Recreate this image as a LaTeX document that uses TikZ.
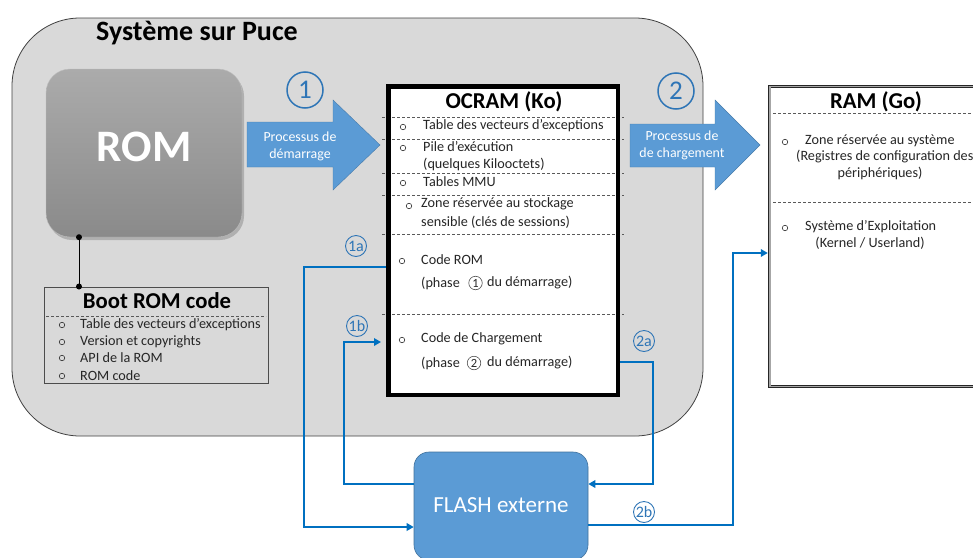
\documentclass[tikz,border=0pt]{standalone}
\usepackage{fontspec}
\setmainfont{Carlito}
\usetikzlibrary{arrows.meta,shadows}

\definecolor{socgray}{HTML}{D9D9D9}
\definecolor{blockblue}{HTML}{5B9BD5}
\definecolor{blockedge}{HTML}{41719C}
\definecolor{linkblue}{HTML}{0070C0}
\definecolor{circblue}{HTML}{2E75B6}
\definecolor{romtop}{HTML}{ABABAB}
\definecolor{rombot}{HTML}{8A8A8A}

\tikzset{
  small/.style={font=\fontsize{14.2}{17}\selectfont, inner sep=0pt, text=black!85},
  item/.style={small, anchor=west},
  bul/.style={circle, draw=black!80, line width=0.6pt, minimum size=5.5pt, inner sep=0pt},
  headbold/.style={font=\fontsize{22.7}{26}\selectfont\bfseries, inner sep=0pt},
  sep/.style={draw=black!65, dashed, dash pattern=on 3pt off 2pt, line width=0.7pt},
  bigcirc/.style={circle, draw=circblue, line width=1.5pt, minimum size=36pt, inner sep=0pt,
                  text=circblue, font=\fontsize{27}{30}\selectfont},
  minicirc/.style={circle, draw=circblue, line width=0.9pt, minimum size=21pt, inner sep=0pt,
                   text=circblue, font=\fontsize{16}{18}\selectfont},
  phasecirc/.style={circle, draw=black!70, line width=0.6pt, minimum size=13.5pt, inner sep=0pt,
                    font=\fontsize{12.5}{14}\selectfont, text=black!85},
  blockarrow/.style={fill=blockblue, draw=blockblue!80!black, line width=0.4pt},
  arrowtext/.style={font=\fontsize{13.9}{16}\selectfont, text=white, inner sep=0pt},
  link/.style={draw=linkblue, line width=2.5pt,
               -{Triangle[length=7pt,width=7.5pt]}},
}

\begin{document}
\begin{tikzpicture}[x=1pt,y=-1pt]
\useasboundingbox (0,0) rectangle (973,557);
\clip (0,0) rectangle (973,557);

% system-on-chip frame
\node[draw=black!75, line width=0.8pt, fill=socgray, rounded corners=68pt,
      minimum width=691pt, minimum height=418pt, inner sep=0pt]
      (soc) at (357.5,227) {};
\node[font=\fontsize{28}{32}\selectfont\bfseries, inner sep=0pt]
      (soctitle) at (197,33) {Système sur Puce};

% ROM block
\node[rounded corners=24pt, top color=romtop, bottom color=rombot,
      draw=black!25, line width=0.4pt,
      drop shadow={shadow xshift=2pt, shadow yshift=-3pt, opacity=0.35, fill=black!60},
      minimum width=196pt, minimum height=168pt, inner sep=0pt]
      (rom) at (144,153) {};
\node[font=\fontsize{45}{50}\selectfont\bfseries, text=white, inner sep=0pt]
      (romlabel) at (144,147) {ROM};

% Boot ROM code box
\node[draw=black!70, line width=1pt, fill=socgray,
      minimum width=224pt, minimum height=96pt, inner sep=0pt]
      (boot) at (156,335) {};
\node[headbold] (boottitle) at (157,301) {Boot ROM code};
\draw[sep] (46,316) -- (266,316);
\node[bul] (bb1) at (62,325) {};
\node[item] (bt1) at (80,325) {Table des vecteurs d’exceptions};
\node[bul] (bb2) at (62,342) {};
\node[item] (bt2) at (80,342) {Version et copyrights};
\node[bul] (bb3) at (62,358) {};
\node[item] (bt3) at (80,358) {API de la ROM};
\node[bul] (bb4) at (62,376) {};
\node[item] (bt4) at (80,376) {ROM code};

% ROM to Boot ROM code link
\coordinate (romx) at (79,0);
\fill (rom.south -| romx) circle (3pt);
\fill (boot.north -| romx) circle (3pt);
\draw[line width=1pt] (rom.south -| romx) -- (boot.north -| romx);

% boot process arrow (step 1)
\fill[blockarrow] (247,122) -- (333,122) -- (333,100) -- (380,145)
      -- (333,190) -- (333,167) -- (247,167) -- cycle;
\node[arrowtext] (a1l1) at (300,137) {Processus de};
\node[arrowtext] (a1l2) at (300,155) {démarrage};
\node[bigcirc] (step1) at (305,90) {1};

% OCRAM
\node[fill=white, minimum width=234pt, minimum height=313pt, inner sep=0pt]
      (ocramfill) at (503,240.5) {};
\foreach \yy in {117,139,173,195,234,314}
  \draw[sep] (382,\yy) -- (624,\yy);
\node[draw=black, line width=4.5pt, minimum width=229.5pt, minimum height=308.5pt,
      inner sep=0pt] (ocram) at (503,240.5) {};
\node[headbold] (ocramtitle) at (504,102) {OCRAM (Ko)};
\node[bul] (ob1) at (403,127) {};
\node[item] (ot1) at (423,126) {Table des vecteurs d’exceptions};
\node[bul] (ob2) at (403,148) {};
\node[item] (ot2) at (423,147) {Pile d’exécution};
\node[item] (ot2b) at (423,164) {(quelques Kilooctets)};
\node[bul] (ob3) at (403,183) {};
\node[item] (ot3) at (423,182) {Tables MMU};
\node[bul] (ob4) at (409,206) {};
\node[item] (ot4) at (421,204) {Zone réservée au stockage};
\node[item] (ot4b) at (421,222) {sensible (clés de sessions)};
\node[bul] (ob5) at (402,261) {};
\node[item] (ot5) at (421,260) {Code ROM};
\node[item] (ot5b) at (421,283) {(phase};
\node[phasecirc] (ph1) at (475.5,283) {1};
\node[item] (ot5c) at (487,283) {du démarrage)};
\node[bul] (ob6) at (402,340) {};
\node[item] (ot6) at (421,339) {Code de Chargement};
\node[item] (ot6b) at (421,363) {(phase};
\node[phasecirc] (ph2) at (474,363) {2};
\node[item] (ot6c) at (487,363) {du démarrage)};

% loading process arrow (step 2)
\fill[blockarrow] (630,124) -- (715,124) -- (715,100) -- (760,145)
      -- (715,190) -- (715,167) -- (630,167) -- cycle;
\node[arrowtext] (a2l1) at (682,136) {Processus de};
\node[arrowtext] (a2l2) at (682,154) {de chargement};
\node[bigcirc] (step2) at (676,91) {2};

% RAM
\node[fill=white, minimum width=232pt, minimum height=304pt, inner sep=0pt]
      (ram) at (884,236.5) {};
\draw[draw=black!85, line width=0.9pt, double=black!35, double distance=1.4pt]
      (ram.north west) ++(2pt,-2pt) rectangle ([shift={(-2pt,2pt)}]ram.south east);
\node[headbold] (ramtitle) at (876,102) {RAM (Go)};
\draw[sep] (773,113) -- (980,113);
\draw[sep] (773,202) -- (980,202);
\node[bul] (rb1) at (785,142) {};
\node[item] (rt1) at (805,141) {Zone réservée au système};
\node[item] (rt1b) at (796,157) {(Registres de configuration des};
\node[small] (rt1c) at (880,173) {périphériques)};
\node[bul] (rb2) at (785,228) {};
\node[item] (rt2) at (805,227) {Système d’Exploitation};
\node[small] (rt2b) at (870,243) {(Kernel / Userland)};

% external flash
\node[fill=blockblue, draw=blockedge, line width=0.6pt, rounded corners=15pt,
      minimum width=174pt, minimum height=108pt, inner sep=0pt]
      (flash) at (501,506) {};
\node[font=\fontsize{23}{26}\selectfont, text=white, inner sep=0pt]
      (flashlabel) at (501,505) {FLASH externe};

% data paths between memories
\coordinate (y1a) at (0,267);
\coordinate (c1a) at (304,267);
\coordinate (c1a2) at (304,527);
\draw[link] (ocram.west |- y1a) -- (c1a) -- (c1a2) -- (flash.west |- c1a2);
\node[minicirc] (l1a) at (356,246) {1a};

\coordinate (c1b) at (344,484);
\coordinate (c1b2) at (344,342);
\coordinate (e1b) at (381,342);
\draw[link] (flash.west |- c1b) -- (c1b) -- (c1b2) -- (e1b);
\node[minicirc] (l1b) at (357,326) {1b};

\coordinate (y2a) at (0,362);
\coordinate (c2a) at (653,362);
\coordinate (c2a2) at (653,484);
\draw[link] (ocram.east |- y2a) -- (c2a) -- (c2a2) -- (flash.east |- c2a2);
\node[minicirc] (l2a) at (644,341) {2a};

\coordinate (c2b) at (733,525);
\coordinate (c2b2) at (733,253);
\draw[link] (flash.east |- c2b) -- (c2b) -- (c2b2) -- (ram.west |- c2b2);
\node[minicirc] (l2b) at (644,512) {2b};
\end{tikzpicture}
\end{document}
